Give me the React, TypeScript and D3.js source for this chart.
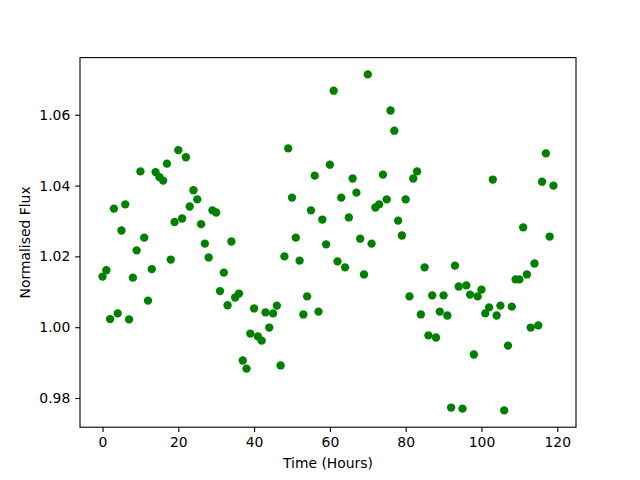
import React, { useEffect, useRef } from "react";
import * as d3 from "d3";

const hours: number[] = Array.from({ length: 120 }, (_, i) => i);
const flux: number[] = [
  1.0143, 1.0161, 1.0023, 1.0335, 1.0039, 1.0273, 1.0347, 1.0022, 1.014, 1.0217,
  1.044, 1.0253, 1.0075, 1.0164, 1.0438, 1.0424, 1.0414, 1.0462, 1.0191, 1.0297,
  1.05, 1.0307, 1.048, 1.0341, 1.0387, 1.0361, 1.0291, 1.0236, 1.0197, 1.033,
  1.0324, 1.0102, 1.0154, 1.0062, 1.0242, 1.0084, 1.0095, 0.9906, 0.9883, 0.9982,
  1.0053, 0.9974, 0.9962, 1.0042, 0.9999, 1.0039, 1.0061, 0.9892, 1.02, 1.0505,
  1.0366, 1.0253, 1.0188, 1.0036, 1.0087, 1.033, 1.0428, 1.0044, 1.0304, 1.0234,
  1.0459, 1.0668, 1.0186, 1.0366, 1.0169, 1.031, 1.042, 1.038, 1.025, 1.0149,
  1.0714, 1.0236, 1.0338, 1.0347, 1.0431, 1.0361, 1.0612, 1.0555, 1.0301, 1.0259,
  1.0361, 1.0087, 1.042, 1.044, 1.0036, 1.0169, 0.9977, 1.009, 0.9971, 1.0044,
  1.009, 1.0033, 0.9773, 1.0174, 1.0115, 0.977, 1.0118, 1.0092, 0.9923, 1.0087,
  1.0106, 1.0039, 1.0056, 1.0417, 1.0033, 1.0061, 0.9765, 0.9948, 1.0058, 1.0135,
  1.0135, 1.0282, 1.0149, 0.9999, 1.018, 1.0005, 1.0411, 1.0491, 1.0256, 1.04,
];
const xTicks: number[] = [0, 20, 40, 60, 80, 100, 120];
const yTicks: number[] = [0.98, 1.0, 1.02, 1.04, 1.06];
const xLabel = "Time (Hours)";
const yLabel = "Normalised Flux";

const W = 640;
const H = 480;
const L = 80;
const R = 576;
const T = 57.6;
const B = 427.2;
const FONT = "'DejaVu Sans', sans-serif";
const FS = 13.9;

export default function App() {
  const xAxisRef = useRef<SVGGElement>(null);
  const yAxisRef = useRef<SVGGElement>(null);

  const xMin = d3.min(hours)!;
  const xMax = d3.max(hours)!;
  const xPad = (xMax - xMin) * 0.05;
  const yMin = d3.min(flux)!;
  const yMax = d3.max(flux)!;
  const yPad = (yMax - yMin) * 0.05;

  const x = d3.scaleLinear().domain([xMin - xPad, xMax + xPad]).range([L, R]);
  const y = d3.scaleLinear().domain([yMin - yPad, yMax + yPad]).range([B, T]);

  useEffect(() => {
    const tickLen = 4.86;
    if (xAxisRef.current) {
      const g = d3.select(xAxisRef.current);
      g.call(
        d3.axisBottom(x).tickValues(xTicks).tickSize(tickLen).tickPadding(4.86).tickFormat(d3.format("d")) as any
      );
      g.select(".domain").remove();
      g.selectAll("line").attr("stroke", "#000").attr("stroke-width", 1.1);
      g.selectAll("text").attr("font-family", FONT).attr("font-size", FS).attr("fill", "#000");
    }
    if (yAxisRef.current) {
      const g = d3.select(yAxisRef.current);
      g.call(
        d3.axisLeft(y).tickValues(yTicks).tickSize(tickLen).tickPadding(4.86).tickFormat(d3.format(".2f")) as any
      );
      g.select(".domain").remove();
      g.selectAll("line").attr("stroke", "#000").attr("stroke-width", 1.1);
      g.selectAll("text").attr("font-family", FONT).attr("font-size", FS).attr("fill", "#000");
    }
  }, []);

  return (
    <div style={{ position: "fixed", left: 0, top: 0 }}>
      <svg width={W} height={H} style={{ display: "block", background: "#fff" }}>
        <rect x={0} y={0} width={W} height={H} fill="#fff" />
        <g>
          {hours.map((h, i) => (
            <circle key={i} cx={x(h)} cy={y(flux[i])} r={4.17} fill="#008000" />
          ))}
        </g>
        <rect x={L} y={T} width={R - L} height={B - T} fill="none" stroke="#000" strokeWidth={1.1} />
        <g ref={xAxisRef} transform={`translate(0,${B})`} />
        <g ref={yAxisRef} transform={`translate(${L},0)`} />
        <text x={(L + R) / 2} y={468} textAnchor="middle" fontFamily={FONT} fontSize={FS} fill="#000">
          {xLabel}
        </text>
        <text
          transform={`translate(30,${(T + B) / 2}) rotate(-90)`}
          textAnchor="middle"
          fontFamily={FONT}
          fontSize={FS}
          fill="#000"
        >
          {yLabel}
        </text>
      </svg>
    </div>
  );
}
